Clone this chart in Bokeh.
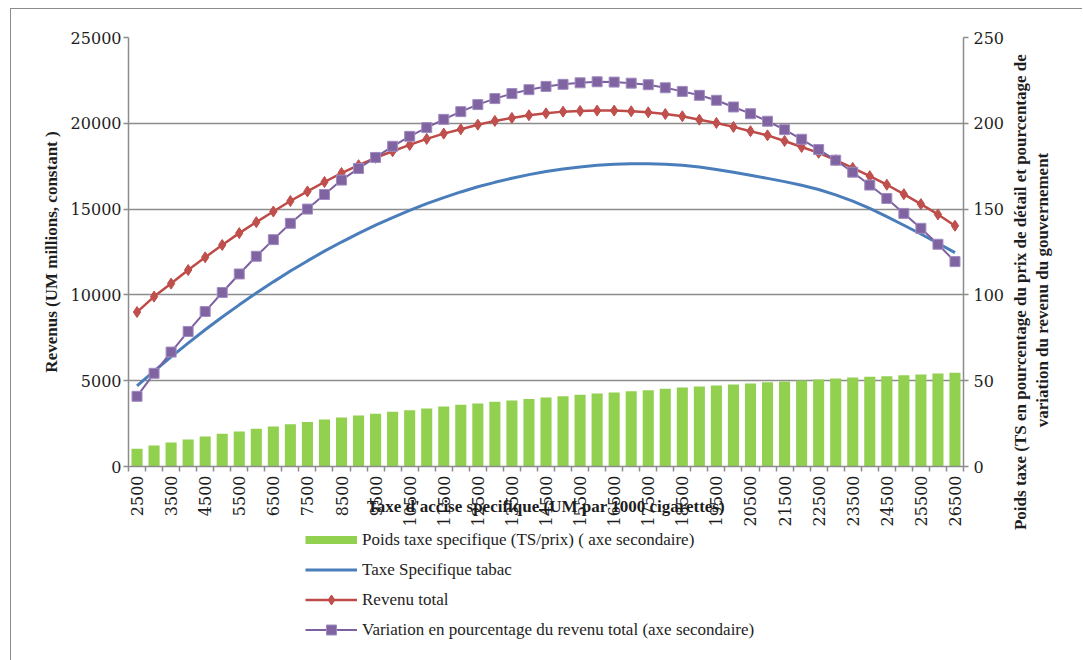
from math import pi
from bokeh.plotting import figure
from bokeh.layouts import column, row
from bokeh.models import (Range1d, LinearAxis, FixedTicker, Legend, LegendItem)
from bokeh.embed import file_html
from bokeh.resources import INLINE

# ---------------- data ----------------
categories = ["2500", "3000", "3500", "4000", "4500", "5000", "5500", "6000", "6500",
              "7000", "7500", "8000", "8500", "9000", "9500", "10000", "10500", "11000",
              "11500", "12000", "12500", "13000", "13500", "14000", "14500", "15000",
              "15500", "16000", "16500", "17000", "17500", "18000", "18500", "19000",
              "19500", "20000", "20500", "21000", "21500", "22000", "22500", "23000",
              "23500", "24000", "24500", "25000", "25500", "26000", "26500"]

# Poids taxe specifique (TS/prix) - secondary axis (%)
poids_taxe = [10.3, 12.2, 14.0, 15.7, 17.5, 19.1, 20.4, 22.0, 23.3, 24.6, 26.0, 27.4,
              28.6, 29.7, 30.7, 31.9, 32.8, 33.8, 35.0, 36.0, 36.7, 37.7, 38.5, 39.4,
              40.2, 41.0, 41.8, 42.5, 43.1, 43.9, 44.5, 45.3, 46.0, 46.6, 47.2, 47.8,
              48.4, 49.1, 49.5, 50.1, 50.7, 51.3, 51.9, 52.3, 52.6, 53.2, 53.6, 54.2, 54.6]

# Taxe Specifique tabac - primary axis (UM millions)
taxe_specifique = [4700, 5560, 6390, 7190, 7970, 8710, 9420, 10110, 10760, 11390, 11980,
                   12550, 13080, 13590, 14070, 14510, 14930, 15320, 15670, 16000, 16300,
                   16560, 16800, 17010, 17190, 17340, 17460, 17550, 17610, 17640, 17640,
                   17610, 17550, 17450, 17310, 17150, 16970, 16790, 16600, 16390, 16140,
                   15830, 15465, 15040, 14560, 14060, 13550, 13010, 12460]

# Revenu total - primary axis (UM millions)
revenu_total = [9000, 9900, 10660, 11450, 12190, 12910, 13600, 14240, 14860, 15470, 16030,
                16580, 17100, 17560, 17990, 18370, 18740, 19090, 19400, 19650, 19920,
                20140, 20310, 20470, 20580, 20680, 20720, 20740, 20740, 20700, 20640,
                20540, 20410, 20210, 20020, 19790, 19540, 19300, 18970, 18620, 18280,
                17850, 17400, 16920, 16420, 15870, 15290, 14690, 14030]

# Variation en pourcentage du revenu total - secondary axis
variation_revenu = [40.9, 54.3, 66.7, 78.7, 90.3, 101.4, 112.2, 122.5, 132.2, 141.7, 150.0,
                    158.5, 166.9, 173.7, 180.1, 186.6, 192.4, 197.5, 202.3, 206.8, 210.9,
                    214.4, 217.3, 219.6, 221.5, 222.7, 223.6, 224.2, 224.0, 223.4, 222.5,
                    220.7, 218.6, 216.3, 213.4, 209.5, 205.6, 201.2, 196.3, 190.7, 184.7,
                    178.5, 171.5, 164.0, 156.2, 147.5, 138.8, 129.5, 119.4]

left_ticks = [0, 5000, 10000, 15000, 20000, 25000]
right_ticks = [0, 50, 100, 150, 200, 250]
x_tick_labels = categories[::2]

legend_labels = ["Poids taxe specifique (TS/prix) ( axe secondaire)",
                 "Taxe Specifique tabac",
                 "Revenu total",
                 "Variation en pourcentage du revenu total (axe secondaire)"]

y_title = "Revenus (UM millions, constant )"
x_title = "Taxe d'accise specifique (UM par 1000 cigarettes)"
y2_title = ["Poids taxe (TS en  pourcentage du prix de détail et pourcentage de",
            "variation du revenu du gouvernement"]

# ---------------- styling ----------------
GRID = "#8c8c8c"
TXT = "#1e1e1e"
TICK_FONT = "DejaVu Serif"
TICK_SIZE = "16px"
LAB_FONT = "Liberation Serif"
TITLE_SIZE = "17px"
GREEN = "#92d050"
BLUE = "#4a7ebb"
RED = "#be4b48"
PURPLE = "#7d60a0"
RED_FILL = "#c0504d"
PUR_FILL = "#8064a2"
PUR_EDGE = "#a08cc0"
NAN = float("nan")

n = len(categories)
pos = list(range(n))          # category slots on the x scale (centre of each category)

MAIN_W = 996

# ---------------- main chart ----------------
p = figure(width=MAIN_W, height=518, output_backend="svg", toolbar_location=None,
           x_range=Range1d(-0.5, n - 0.5),
           y_range=Range1d(0, 25000),
           x_axis_location=None,
           min_border_left=117, min_border_right=41,
           min_border_top=28, min_border_bottom=61)
p.extra_y_ranges = {"sec": Range1d(0, 250)}
p.outline_line_color = None
p.background_fill_color = "white"
p.border_fill_color = "white"

p.xgrid.visible = False
p.ygrid.ticker = FixedTicker(ticks=left_ticks)
p.ygrid.grid_line_color = GRID
p.ygrid.grid_line_width = 1.5

ya = p.yaxis[0]
ya.ticker = FixedTicker(ticks=left_ticks)
ya.axis_line_color = GRID
ya.axis_line_width = 1.5
ya.major_tick_line_color = GRID
ya.major_tick_line_width = 1.5
ya.major_tick_out = 5
ya.major_tick_in = 0
ya.minor_tick_line_color = None
ya.major_label_standoff = 2
ya.major_label_text_font = TICK_FONT
ya.major_label_text_font_size = TICK_SIZE
ya.major_label_text_color = TXT
ya.axis_label = y_title
ya.axis_label_standoff = 7
ya.axis_label_text_font = LAB_FONT
ya.axis_label_text_font_style = "bold"
ya.axis_label_text_font_size = TITLE_SIZE
ya.axis_label_text_color = TXT

ra = LinearAxis(y_range_name="sec", ticker=FixedTicker(ticks=right_ticks))
ra.axis_line_color = GRID
ra.axis_line_width = 1.5
ra.major_tick_line_color = GRID
ra.major_tick_line_width = 1.5
ra.major_tick_out = 5
ra.major_tick_in = 0
ra.minor_tick_line_color = None
ra.major_label_standoff = 5
ra.major_label_text_font = TICK_FONT
ra.major_label_text_font_size = TICK_SIZE
ra.major_label_text_color = TXT
p.add_layout(ra, "right")

xa = LinearAxis(ticker=FixedTicker(ticks=pos[::2],
                                   minor_ticks=[i - 0.5 for i in range(n + 1)]))
xa.major_label_overrides = {i: lab for i, lab in zip(pos[::2], x_tick_labels)}
xa.axis_line_color = GRID
xa.axis_line_width = 1.5
xa.major_tick_line_color = None
xa.minor_tick_line_color = GRID
xa.minor_tick_line_width = 1.5
xa.minor_tick_out = 5
xa.minor_tick_in = 0
xa.major_label_orientation = pi / 2
xa.major_label_standoff = 3
xa.major_label_text_font = TICK_FONT
xa.major_label_text_font_size = TICK_SIZE
xa.major_label_text_color = TXT
xa.axis_label = x_title
xa.axis_label_standoff = -32
xa.axis_label_text_font = LAB_FONT
xa.axis_label_text_font_style = "bold"
xa.axis_label_text_font_size = TITLE_SIZE
xa.axis_label_text_color = TXT
p.add_layout(xa, "below")

p.vbar(x=pos, top=poids_taxe, width=0.65, y_range_name="sec",
       fill_color=GREEN, line_color=None)
p.line(x=pos, y=taxe_specifique, line_color=BLUE, line_width=3)
p.line(x=pos, y=revenu_total, line_color=RED, line_width=2.5)
p.scatter(x=pos, y=revenu_total, marker="diamond", size=11,
          fill_color=RED_FILL, line_color=RED, line_width=1)
p.line(x=pos, y=variation_revenu, y_range_name="sec", line_color=PURPLE, line_width=2)
p.scatter(x=pos, y=variation_revenu, y_range_name="sec", marker="square",
          size=10, fill_color=PUR_FILL, line_color=PUR_EDGE, line_width=1)

# ---------------- legend panel (below the chart) ----------------
lg = figure(width=MAIN_W, height=133, output_backend="svg", toolbar_location=None,
            x_range=Range1d(0, 1), y_range=Range1d(0, 1),
            x_axis_location=None, y_axis_location=None, min_border=0)
lg.outline_line_color = None
lg.grid.visible = False
lg.background_fill_color = "white"
lg.border_fill_color = "white"

sw_bar = lg.line(x=[NAN], y=[NAN], line_color=GREEN, line_width=8)
sw_blue = lg.line(x=[NAN], y=[NAN], line_color=BLUE, line_width=3)
sw_red_l = lg.line(x=[NAN], y=[NAN], line_color=RED, line_width=2.5)
sw_red_m = lg.scatter(x=[NAN], y=[NAN], marker="diamond", fill_color=RED_FILL,
                      line_color=RED, line_width=1)
sw_pur_l = lg.line(x=[NAN], y=[NAN], line_color=PURPLE, line_width=2)
sw_pur_m = lg.scatter(x=[NAN], y=[NAN], marker="square", fill_color=PUR_FILL,
                      line_color=PUR_EDGE, line_width=1)

legend = Legend(items=[LegendItem(label=legend_labels[0], renderers=[sw_bar]),
                       LegendItem(label=legend_labels[1], renderers=[sw_blue]),
                       LegendItem(label=legend_labels[2], renderers=[sw_red_l, sw_red_m]),
                       LegendItem(label=legend_labels[3], renderers=[sw_pur_l, sw_pur_m])],
                location=(177, 18), orientation="vertical",
                glyph_width=52, glyph_height=25, spacing=5, padding=0, margin=0,
                label_standoff=5, label_height=25,
                label_text_font=LAB_FONT, label_text_font_size="17px",
                label_text_color=TXT, border_line_color=None,
                background_fill_alpha=0)
lg.add_layout(legend, "center")

# ---------------- secondary-axis title (two lines, reading upwards) ----------------
ttl = figure(width=75, height=651, output_backend="svg", toolbar_location=None,
             x_range=Range1d(0, 1), y_range=Range1d(0, 1),
             x_axis_location=None, y_axis_location=None,
             min_border_left=41, min_border_right=0, min_border_top=0,
             min_border_bottom=90)
ttl.outline_line_color = None
ttl.grid.visible = False
ttl.background_fill_color = "white"
ttl.border_fill_color = "white"
for txt, stand in ((y2_title[1], 1), (y2_title[0], 0)):
    ax = LinearAxis(ticker=FixedTicker(ticks=[]))
    ax.axis_line_color = None
    ax.major_tick_line_color = None
    ax.minor_tick_line_color = None
    ax.major_tick_out = 0
    ax.major_label_standoff = 0
    ax.axis_label = txt
    ax.axis_label_standoff = stand
    ax.axis_label_text_font = LAB_FONT
    ax.axis_label_text_font_style = "bold"
    ax.axis_label_text_font_size = TITLE_SIZE
    ax.axis_label_text_color = TXT
    ttl.add_layout(ax, "left")

layout = row(column(p, lg, spacing=0), ttl, spacing=0, margin=(8, 0, 0, 10),
             styles={"border-left": "1.5px solid #8c8c8c",
                     "border-top": "1.5px solid #8c8c8c"})

open("out.html", "w").write(file_html(layout, INLINE))
